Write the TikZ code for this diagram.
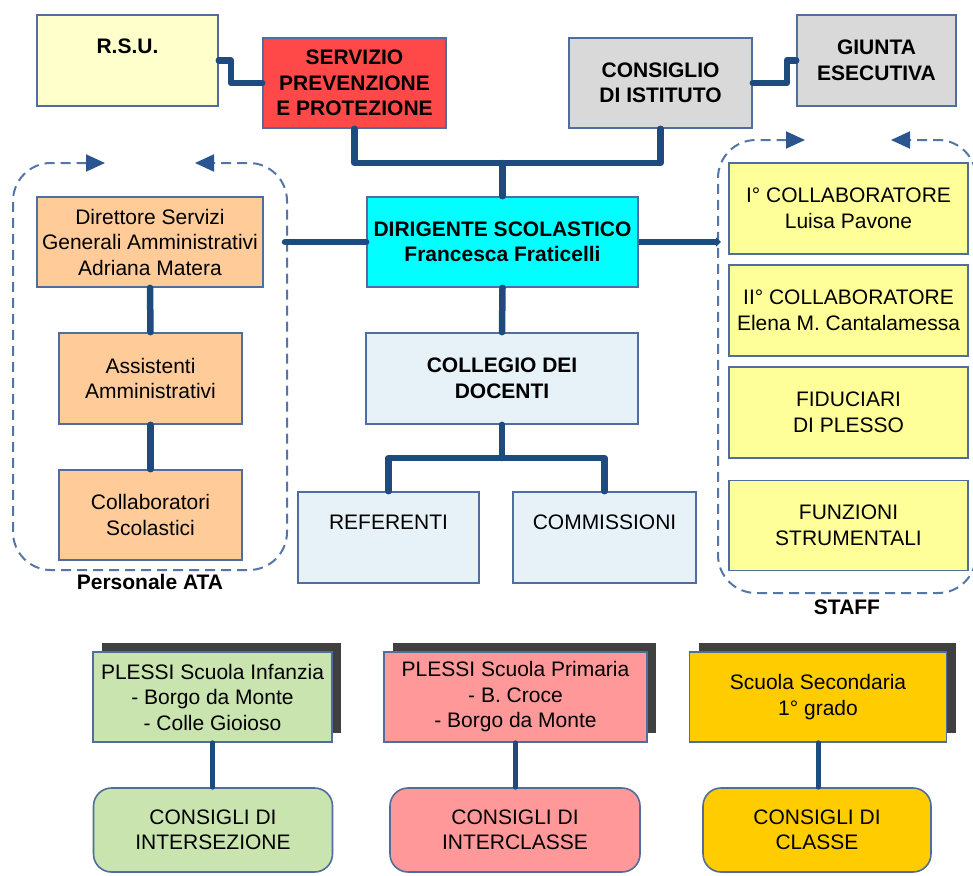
\documentclass[tikz,border=0pt]{standalone}
\usepackage{fontspec}
\setmainfont{Liberation Sans}
\usetikzlibrary{arrows.meta,shadows}
\definecolor{boxline}{HTML}{4F6D9E}
\definecolor{connblue}{HTML}{1F4A7E}
\definecolor{dashblue}{HTML}{5476A6}
\definecolor{tipblue}{HTML}{2A5590}
\definecolor{rsufill}{HTML}{FFFFCC}
\definecolor{sppfill}{HTML}{FF4949}
\definecolor{grayfill}{HTML}{D9D9D9}
\definecolor{dirfill}{HTML}{00FFFF}
\definecolor{atafill}{HTML}{FFCC99}
\definecolor{colfill}{HTML}{E6F2F8}
\definecolor{stafffill}{HTML}{FFFF99}
\definecolor{inffill}{HTML}{C9E4AE}
\definecolor{prifill}{HTML}{FF9999}
\definecolor{secfill}{HTML}{FFCC00}
\definecolor{shadowgray}{HTML}{404040}
\begin{document}
\begin{tikzpicture}[x=1pt,y=-1pt,
  font=\fontsize{21}{25.5}\selectfont,
  box/.style={draw=boxline, line width=1.6pt, inner sep=2pt, align=center},
  bbox/.style={box, font=\fontsize{21}{25.5}\selectfont\bfseries},
  conn/.style={draw=connblue, line width=6.5pt, line cap=round, line join=round},
  grp/.style={draw=dashblue, line width=2pt, dash pattern=on 10pt off 6pt, rounded corners=38pt},
  shad/.style={drop shadow={shadow xshift=9pt, shadow yshift=9pt, fill=shadowgray, opacity=1}},
  lbl/.style={font=\fontsize{21}{25.5}\selectfont\bfseries, inner sep=0pt}
]
\useasboundingbox (0,0) rectangle (973,875);

% group containers
\draw[grp, {Triangle[length=19pt,width=17pt,color=tipblue]}-{Triangle[length=19pt,width=17pt,color=tipblue]}] (105,163) -- (13,163) -- (13,570) -- (287,570) -- (287,163) -- (195,163);
\draw[grp, {Triangle[length=19pt,width=17pt,color=tipblue]}-{Triangle[length=19pt,width=17pt,color=tipblue]}] (805,140) -- (718,140) -- (718,593) -- (976,593) -- (976,140) -- (891,140);
\coordinate (ataR) at (285,242);
\coordinate (staffL) at (721,242);

% top row
\node[box, fill=rsufill, minimum width=181pt, minimum height=91pt] (rsu) at (127.5,60.5) {};
\node[lbl] (rsutext) at (127.5,46) {R.S.U.};
\node[bbox, fill=sppfill, minimum width=183pt, minimum height=90pt] (spp) at (354.5,83) {SERVIZIO\\PREVENZIONE\\E PROTEZIONE};
\node[bbox, fill=grayfill, minimum width=183pt, minimum height=90pt] (ci) at (660.5,83) {CONSIGLIO\\DI ISTITUTO};
\node[bbox, fill=grayfill, minimum width=159pt, minimum height=91pt] (giunta) at (876.5,60.5) {GIUNTA\\ESECUTIVA};

% centre column
\node[bbox, fill=dirfill, minimum width=271pt, minimum height=90pt] (dir) at (502.5,242) {DIRIGENTE SCOLASTICO\\Francesca Fraticelli};
\node[bbox, fill=colfill, minimum width=272pt, minimum height=91pt] (col) at (502,378.5) {COLLEGIO DEI\\DOCENTI};
\node[box, fill=colfill, minimum width=181pt, minimum height=91pt] (ref) at (388.5,537.5) {};
\node[inner sep=0pt] (reftext) at (388.5,522) {REFERENTI};
\node[box, fill=colfill, minimum width=183pt, minimum height=91pt] (com) at (604.5,537.5) {};
\node[inner sep=0pt] (comtext) at (604.5,522) {COMMISSIONI};

% ATA column
\node[box, fill=atafill, minimum width=226pt, minimum height=90pt] (dsga) at (150,242) {Direttore Servizi\\Generali Amministrativi\\Adriana Matera};
\node[box, fill=atafill, minimum width=183pt, minimum height=91pt] (ass) at (150.5,378.5) {Assistenti\\Amministrativi};
\node[box, fill=atafill, minimum width=183pt, minimum height=90pt] (cs) at (150.5,515) {Collaboratori\\Scolastici};
\node[lbl] (ata) at (150,582) {Personale ATA};

% staff column
\node[box, fill=stafffill, minimum width=239pt, minimum height=91pt] (c1) at (848.5,208.5) {I° COLLABORATORE\\Luisa Pavone};
\node[box, fill=stafffill, minimum width=239pt, minimum height=91pt] (c2) at (848.5,310.5) {II° COLLABORATORE\\Elena M. Cantalamessa};
\node[box, fill=stafffill, minimum width=239pt, minimum height=91pt] (fid) at (848.5,412.5) {FIDUCIARI\\DI PLESSO};
\node[box, fill=stafffill, minimum width=239pt, minimum height=90pt] (fun) at (848.5,525.5) {FUNZIONI\\STRUMENTALI};
\node[lbl] (staff) at (847,607) {STAFF};

% bottom row
\node[box, shad, fill=inffill, minimum width=239pt, minimum height=90pt] (inf) at (212.5,697) {PLESSI Scuola Infanzia\\- Borgo da Monte\\- Colle Gioioso};
\node[box, shad, fill=prifill, minimum width=263pt, minimum height=90pt] (pri) at (515.5,697) {PLESSI Scuola Primaria\\- B. Croce\\- Borgo da Monte};
\node[box, shad, fill=secfill, minimum width=257pt, minimum height=90pt] (sec) at (818,697) {Scuola Secondaria\\1° grado};
\node[box, fill=inffill, rounded corners=18pt, minimum width=239pt, minimum height=84pt] (cinf) at (213,830) {CONSIGLI DI\\INTERSEZIONE};
\node[box, fill=prifill, rounded corners=18pt, minimum width=250pt, minimum height=84pt] (cint) at (515,830) {CONSIGLI DI\\INTERCLASSE};
\node[box, fill=secfill, rounded corners=18pt, minimum width=228pt, minimum height=84pt] (ccl) at (817,830) {CONSIGLI DI\\CLASSE};

% connectors
\draw[conn] (rsu.east) -- ++(12,0) |- (spp.west);
\draw[conn] (ci.east) -- ++(34,0) |- (giunta.west);
\coordinate (bus) at (dir.north |- 0,163);
\draw[conn] (spp.south) |- (bus) -| (ci.south);
\draw[conn] (bus) -- (dir.north);
\draw[conn] (dir.west) -- (ataR);
\draw[conn, line cap=butt, -{Triangle[length=5pt,width=9pt]}] (dir.east) -- (staffL);
\draw[conn] (dir.south) -- (col.north);
\coordinate (split) at (col.south |- 0,458);
\draw[conn] (col.south) -- (split);
\draw[conn] (ref.north) |- (split) -| (com.north);
\draw[conn] (dsga.south) -- (ass.north);
\draw[conn] (ass.south) -- (cs.north);
\draw[conn, line width=5pt] (inf.south) -- (inf.south |- cinf.north);
\draw[conn, line width=5pt] (pri.south) -- (pri.south |- cint.north);
\draw[conn, line width=5pt] (sec.south) -- (sec.south |- ccl.north);
\end{tikzpicture}
\end{document}
